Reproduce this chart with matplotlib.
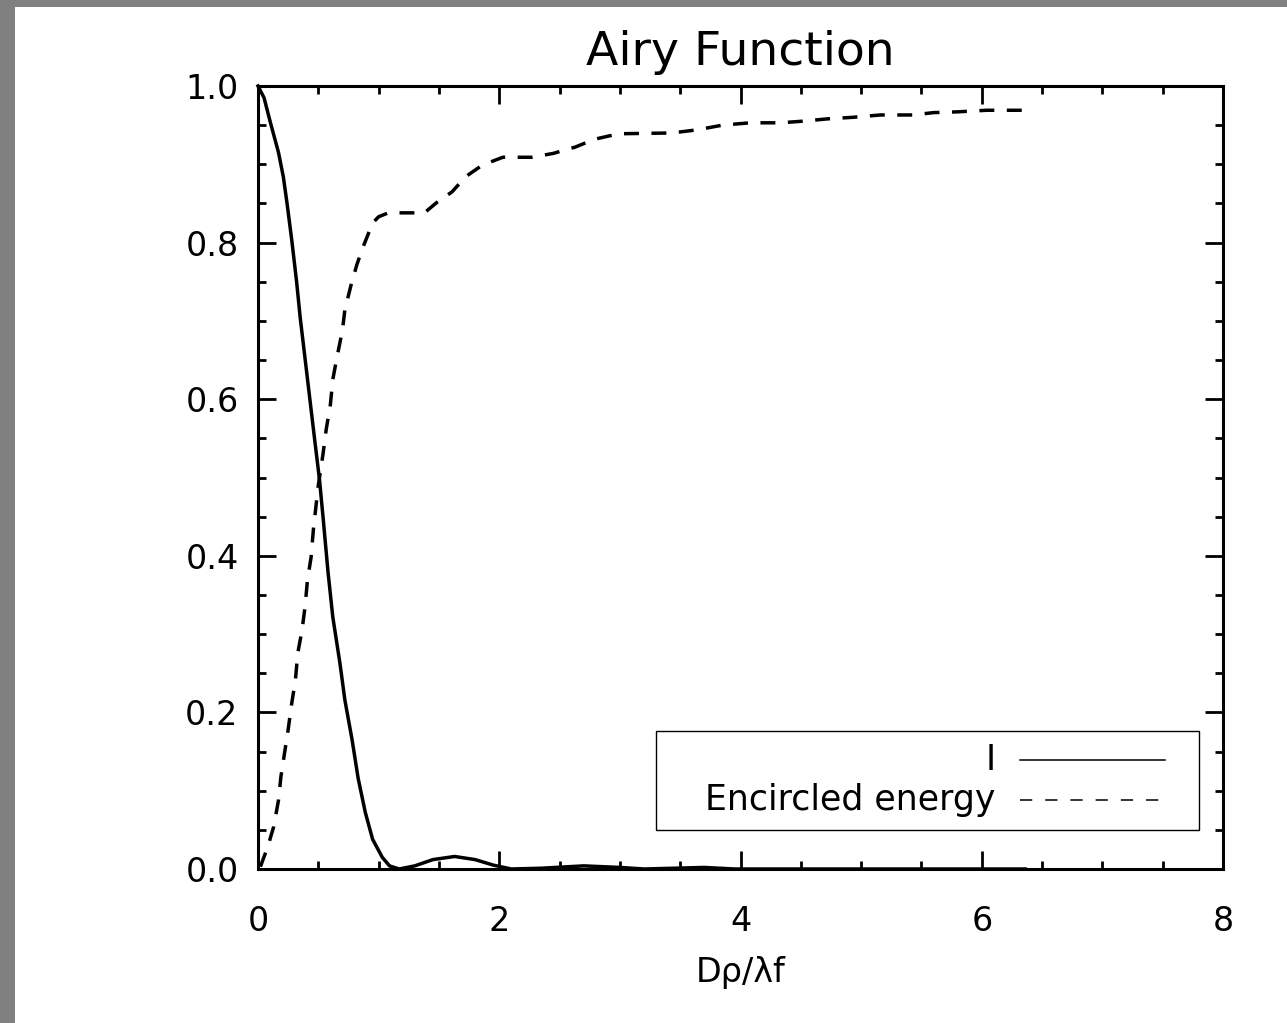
import matplotlib
matplotlib.use('Agg')
import matplotlib.pyplot as plt
from matplotlib.patches import Rectangle
from matplotlib.ticker import MultipleLocator, FormatStrFormatter

u_i = [0.0, 0.05, 0.10, 0.17, 0.21, 0.24, 0.28, 0.32, 0.35, 0.39, 0.43, 0.47,
       0.51, 0.54, 0.58, 0.62, 0.68, 0.72, 0.78, 0.83, 0.89, 0.95, 1.03, 1.09,
       1.17, 1.30, 1.45, 1.63, 1.80, 1.95, 2.10, 2.35, 2.70, 3.00, 3.20, 3.45,
       3.70, 3.95, 4.50, 5.00, 5.50, 6.00, 6.36]
intensity = [1.0, 0.985, 0.955, 0.915, 0.884, 0.851, 0.803, 0.750, 0.704, 0.652,
             0.600, 0.548, 0.497, 0.448, 0.380, 0.322, 0.262, 0.216, 0.165,
             0.116, 0.072, 0.038, 0.015, 0.004, 0.0, 0.004, 0.012, 0.016, 0.012,
             0.005, 0.0, 0.001, 0.004, 0.002, 0.0, 0.001, 0.002, 0.0, 0.0, 0.0,
             0.0, 0.0, 0.0]

# encircled energy
u_ee = [0.02, 0.08, 0.13, 0.17, 0.19, 0.22, 0.25, 0.28, 0.31, 0.33, 0.365, 0.39,
        0.41, 0.44, 0.46, 0.50, 0.54, 0.565, 0.60, 0.62, 0.655, 0.70, 0.72, 0.77,
        0.82, 0.87, 0.95, 1.00, 1.08, 1.38, 1.48, 1.61, 1.72, 1.86, 2.03, 2.27,
        2.45, 2.63, 2.79, 2.99, 3.43, 3.64, 3.85, 4.08, 4.33, 4.51, 4.72, 4.93,
        5.16, 5.43, 5.60, 5.80, 6.04, 6.36]
energy = [0.003, 0.028, 0.054, 0.088, 0.118, 0.148, 0.178, 0.212, 0.241, 0.276,
          0.305, 0.335, 0.369, 0.398, 0.435, 0.490, 0.531, 0.561, 0.593, 0.625,
          0.654, 0.688, 0.714, 0.745, 0.772, 0.794, 0.825, 0.833, 0.838, 0.838,
          0.851, 0.865, 0.884, 0.899, 0.909, 0.909, 0.914, 0.922, 0.932, 0.939,
          0.940, 0.944, 0.950, 0.953, 0.953, 0.955, 0.958, 0.960, 0.963, 0.963,
          0.966, 0.967, 0.969, 0.969]

plt.rcParams['font.family'] = ['DejaVu Sans']

fig = plt.figure(figsize=(12.87, 10.23), dpi=100)
fig.patch.set_facecolor('#808080')
# white page inside the grey frame
fig.patches.append(Rectangle((15 / 1287, 0), 1, 1 - 7 / 1023, transform=fig.transFigure,
                             facecolor='white', edgecolor='none', zorder=-10))

ax = fig.add_axes([258 / 1287, 154 / 1023, 965 / 1287, 783 / 1023])
ax.set_facecolor('white')

ax.plot(u_i, intensity, color='black', lw=2.5, solid_joinstyle='round', clip_on=False)
ax.plot(u_ee, energy, color='black', lw=2.5, dashes=(4.3, 3.6))

ax.set_xlim(0, 8)
ax.set_ylim(0, 1)
ax.xaxis.set_major_locator(MultipleLocator(2))
ax.xaxis.set_minor_locator(MultipleLocator(0.5))
ax.yaxis.set_major_locator(MultipleLocator(0.2))
ax.yaxis.set_minor_locator(MultipleLocator(0.05))
ax.yaxis.set_major_formatter(FormatStrFormatter('%.1f'))
ax.xaxis.set_major_formatter(FormatStrFormatter('%d'))

ax.tick_params(which='both', direction='in', top=True, right=True, width=2, color='black')
ax.tick_params(which='major', length=13)
ax.tick_params(which='minor', length=6)
ax.tick_params(axis='x', which='major', pad=26, labelsize=24)
ax.tick_params(axis='y', which='major', pad=14, labelsize=24)
for s in ax.spines.values():
    s.set_linewidth(2.2)

ax.set_title('Airy Function', fontsize=34, pad=15)
ax.set_xlabel('Dρ/λf', fontsize=24, labelpad=13)

# legend box drawn by hand (text right-aligned next to the line samples)
ax.add_patch(Rectangle((0.412, 0.050), 0.563, 0.126, transform=ax.transAxes,
                       fill=False, edgecolor='black', lw=1.0))
ax.text(0.764, 0.139, 'I', transform=ax.transAxes, ha='right', va='center', fontsize=25)
ax.text(0.764, 0.088, 'Encircled energy', transform=ax.transAxes, ha='right',
        va='center', fontsize=25)
ax.plot([0.79, 0.94], [0.139, 0.139], transform=ax.transAxes, color='black', lw=1.1)
ax.plot([0.79, 0.94], [0.088, 0.088], transform=ax.transAxes, color='black', lw=1.1,
        dashes=(8, 8.5))

fig.savefig('out.png', dpi=100, facecolor=fig.get_facecolor())
